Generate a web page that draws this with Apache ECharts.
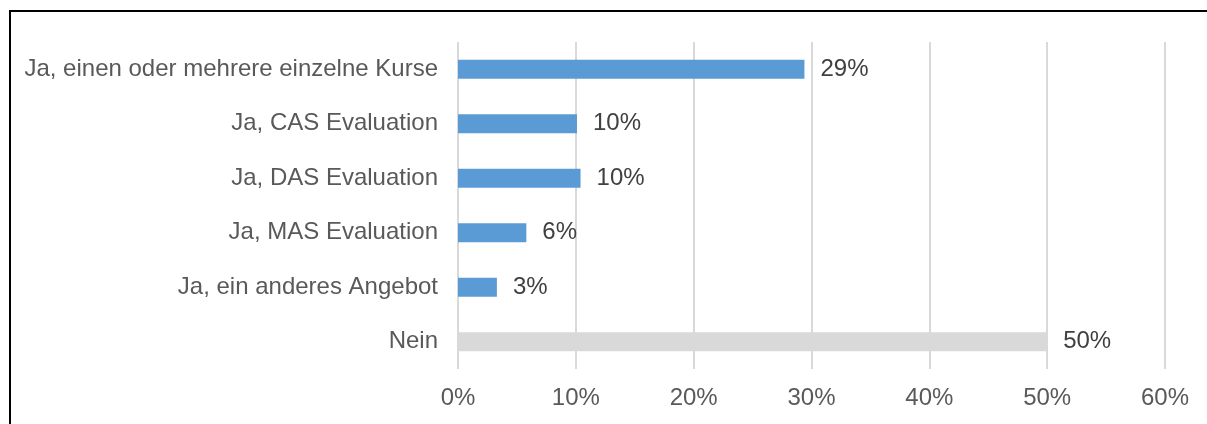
<!DOCTYPE html>
<html>
<head>
<meta charset="utf-8">
<script src="https://cdn.jsdelivr.net/npm/echarts@6/dist/echarts.min.js"></script>
<style>
    html, body { margin: 0; padding: 0; background: #fff; }
    #chart { width: 1207px; height: 424px; }
</style>
</head>
<body>
<div id="chart"></div>
<script>
// categories top to bottom
const categories = [
    'Ja, einen oder mehrere einzelne Kurse',
    'Ja, CAS Evaluation',
    'Ja, DAS Evaluation',
    'Ja, MAS Evaluation',
    'Ja, ein anderes Angebot',
    'Nein'
]
const values = [29.4, 10.1, 10.4, 5.8, 3.3, 50.0]
const barColors = ['#5b9bd5', '#5b9bd5', '#5b9bd5', '#5b9bd5', '#5b9bd5', '#d9d9d9']
const xTicks = [0, 10, 20, 30, 40, 50, 60]

const chart = echarts.init(document.getElementById('chart'))
chart.setOption({
    animation: false,
    textStyle: { fontFamily: 'Liberation Sans, Arial, sans-serif' },
    grid: { left: 458, right: 42, top: 42, bottom: 55 },
    graphic: [{
        type: 'rect',
        shape: { x: 10, y: 11, width: 1250, height: 500 },
        style: { fill: 'none', stroke: '#000', lineWidth: 2 },
        silent: true
    }],
    xAxis: {
        type: 'value',
        min: xTicks[0],
        max: xTicks[xTicks.length - 1],
        interval: 10,
        axisLine: { show: false },
        axisTick: { show: false },
        splitLine: { lineStyle: { color: '#d9d9d9', width: 2 } },
        axisLabel: {
            color: '#595959',
            fontSize: 24,
            margin: 17,
            formatter: v => v + '%'
        }
    },
    yAxis: {
        type: 'category',
        data: categories,
        inverse: true,
        axisLine: { show: false },
        axisTick: { show: false },
        axisLabel: { color: '#595959', fontSize: 24, margin: 20 }
    },
    series: [{
        type: 'bar',
        barWidth: 19,
        data: values.map((v, i) => ({ value: v, itemStyle: { color: barColors[i] } })),
        label: {
            show: true,
            position: 'right',
            distance: 16,
            color: '#404040',
            fontSize: 24,
            formatter: p => Math.round(p.value) + '%'
        }
    }]
})
</script>
</body>
</html>
